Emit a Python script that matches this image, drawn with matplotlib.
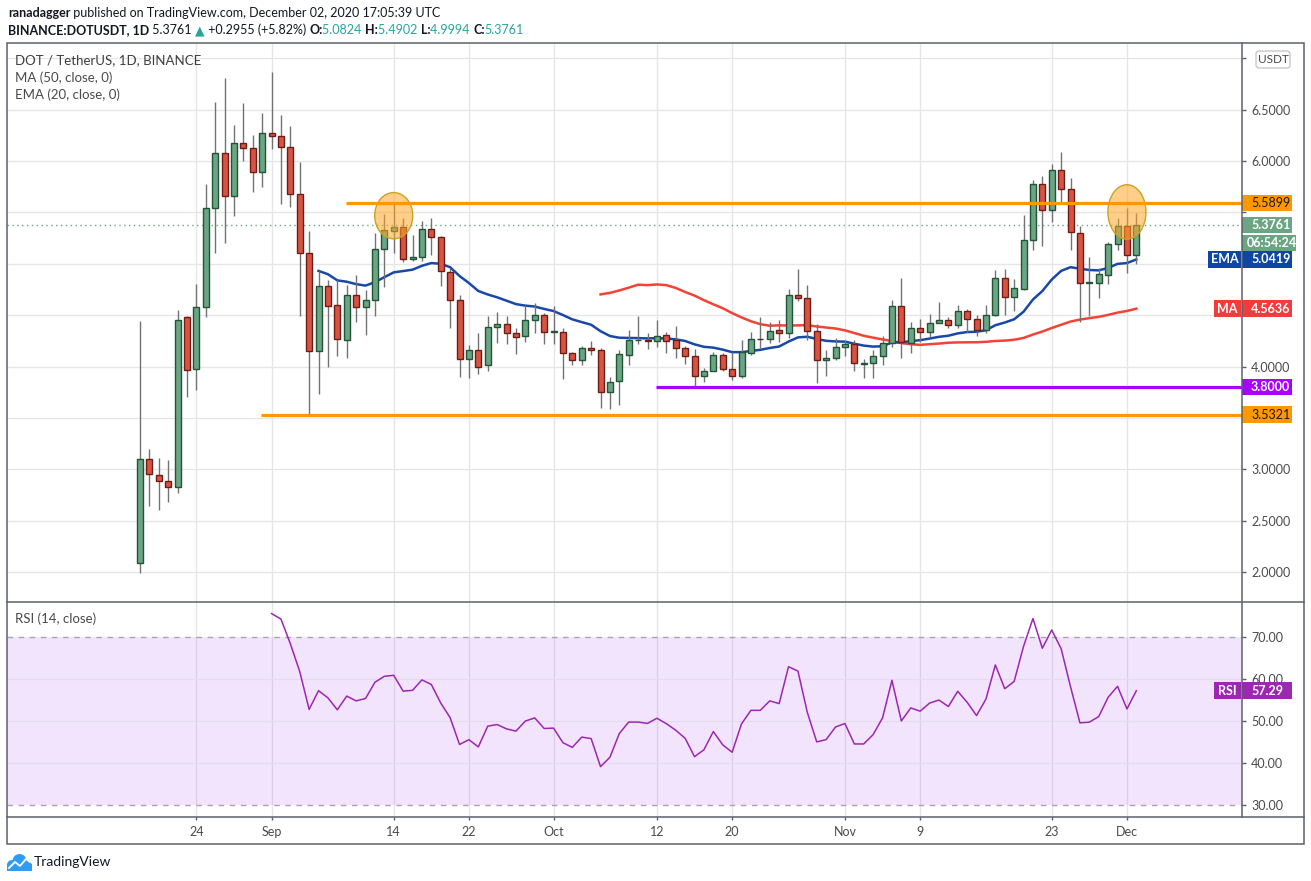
import matplotlib
matplotlib.use('Agg')
import matplotlib.pyplot as plt
from matplotlib.patches import Rectangle, Ellipse, Circle, FancyBboxPatch
import numpy as np
import pandas as pd

plt.rcParams['font.family'] = ['Lato', 'DejaVu Sans']

# daily candles DOT/USDT (Aug 18 - Dec 2, 2020)
start_date = '2020-08-18'
opens = [2.085, 3.10, 2.94, 2.89, 2.83, 4.48, 3.98, 4.58, 5.54, 6.08, 5.66, 6.18, 6.13, 5.89,
         6.27, 6.24, 6.14, 5.68, 5.10, 4.15, 4.78, 4.60, 4.26, 4.70, 4.58, 4.65, 5.14, 5.32,
         5.36, 5.05, 5.07, 5.34, 5.26, 4.92, 4.65, 4.07, 4.16, 4.01, 4.38, 4.41, 4.33, 4.30,
         4.45, 4.50, 4.34, 4.34, 4.13, 4.06, 4.18, 4.16, 3.75, 3.86, 4.11, 4.255, 4.26, 4.245,
         4.31, 4.26, 4.18, 4.10, 3.91, 3.96, 4.11, 3.98, 3.905, 4.13, 4.27, 4.265, 4.355, 4.33,
         4.70, 4.67, 4.35, 4.06, 4.08, 4.19, 4.22, 4.025, 4.03, 4.10, 4.23, 4.59, 4.23, 4.37,
         4.34, 4.42, 4.45, 4.40, 4.54, 4.46, 4.36, 4.50, 4.86, 4.68, 4.75, 5.23, 5.78, 5.52,
         5.91, 5.73, 5.30, 4.81, 4.81, 4.89, 5.19, 5.37, 5.0824]
highs = [4.44, 3.20, 3.11, 3.09, 4.55, 4.49, 4.80, 5.78, 6.57, 6.81, 6.35, 6.56, 6.25, 6.47,
         6.87, 6.45, 6.34, 5.99, 5.32, 4.93, 4.84, 4.84, 4.79, 4.89, 4.74, 5.30, 5.48, 5.58,
         5.45, 5.28, 5.42, 5.45, 5.27, 4.96, 4.70, 4.21, 4.33, 4.49, 4.53, 4.49, 4.37, 4.60,
         4.62, 4.52, 4.59, 4.37, 4.14, 4.20, 4.25, 4.18, 3.90, 4.16, 4.36, 4.49, 4.33, 4.45,
         4.34, 4.39, 4.20, 4.17, 3.99, 4.14, 4.13, 4.14, 4.26, 4.34, 4.48, 4.43, 4.45, 4.755,
         4.95, 4.79, 4.41, 4.16, 4.28, 4.26, 4.26, 4.07, 4.16, 4.30, 4.645, 4.86, 4.43, 4.46,
         4.51, 4.625, 4.48, 4.595, 4.555, 4.50, 4.595, 4.94, 4.95, 4.85, 5.47, 5.815, 5.85, 5.97,
         6.09, 5.83, 5.37, 5.07, 4.955, 5.21, 5.45, 5.54, 5.4902]
lows = [1.99, 2.64, 2.60, 2.68, 2.77, 3.70, 3.77, 4.48, 5.10, 5.20, 5.46, 6.00, 5.70, 5.75,
        6.12, 5.58, 5.55, 4.49, 3.53, 3.73, 4.00, 4.10, 4.08, 4.43, 4.31, 4.49, 4.77, 5.10,
        5.02, 5.03, 5.03, 5.09, 4.78, 4.37, 3.90, 3.89, 3.93, 3.96, 4.23, 4.22, 4.12, 4.24,
        4.33, 4.22, 4.22, 3.88, 4.01, 4.01, 4.11, 3.60, 3.59, 3.63, 4.01, 4.22, 4.17, 4.19,
        4.13, 4.08, 4.02, 3.79, 3.85, 3.955, 3.955, 3.87, 3.885, 4.115, 4.18, 4.23, 4.24, 4.28,
        4.64, 4.255, 3.84, 3.91, 4.06, 4.105, 3.96, 3.89, 3.89, 4.01, 4.19, 4.08, 4.13, 4.235,
        4.29, 4.42, 4.37, 4.37, 4.34, 4.30, 4.33, 4.49, 4.50, 4.54, 4.74, 5.13, 5.17, 5.41,
        5.60, 5.13, 4.43, 4.49, 4.67, 4.80, 5.13, 4.91, 4.9994]
closes = [3.10, 2.95, 2.89, 2.83, 4.45, 3.97, 4.58, 5.54, 6.08, 5.66, 6.18, 6.13, 5.89, 6.27,
          6.24, 6.14, 5.68, 5.10, 4.15, 4.78, 4.59, 4.27, 4.70, 4.58, 4.65, 5.14, 5.33, 5.36,
          5.05, 5.07, 5.34, 5.26, 4.93, 4.65, 4.07, 4.16, 4.00, 4.38, 4.41, 4.33, 4.29, 4.45,
          4.50, 4.34, 4.345, 4.13, 4.06, 4.18, 4.16, 3.75, 3.85, 4.12, 4.26, 4.26, 4.245, 4.30,
          4.245, 4.18, 4.10, 3.905, 3.96, 4.11, 3.98, 3.905, 4.14, 4.265, 4.265, 4.35, 4.33, 4.70,
          4.67, 4.35, 4.06, 4.08, 4.19, 4.22, 4.03, 4.03, 4.10, 4.23, 4.59, 4.235, 4.37, 4.34,
          4.42, 4.45, 4.40, 4.54, 4.46, 4.36, 4.50, 4.86, 4.68, 4.76, 5.23, 5.78, 5.52, 5.91,
          5.73, 5.31, 4.81, 4.82, 4.90, 5.19, 5.37, 5.0824, 5.3761]

# indicator readouts shown on the price scale
ema_last = 5.0419
ma_last = 4.5636
rsi_last = 57.29
countdown = '06:54:24'

tick_dates = ['2020-08-24', '2020-09-01', '2020-09-14', '2020-09-22', '2020-10-01', '2020-10-12',
              '2020-10-20', '2020-11-01', '2020-11-09', '2020-11-23', '2020-12-01']
tick_labels = ['24', 'Sep', '14', '22', 'Oct', '12', '20', 'Nov', '9', '23', 'Dec']
price_ticks = [2.0, 2.5, 3.0, 3.5, 4.0, 4.5, 5.0, 5.5, 6.0, 6.5, 7.0]
hidden_ticks = [3.5, 4.5, 5.0, 5.5, 7.0]  # covered by the tags on the scale

# horizontal levels drawn by the author
level_values = [5.5899, 3.8000, 3.5321]
level_starts = ['2020-09-09', '2020-10-12', '2020-08-31']
level_colors = ['#ff9800', '#aa00ff', '#ff9800']
level_text = ['#1a1a1a', 'white', '#1a1a1a']

# highlighted tops (ellipses)
circle_dates = ['2020-09-14', '2020-12-01']
circle_prices = [5.468, 5.504]
circle_heights = [0.45, 0.53]

opens = np.array(opens); highs = np.array(highs)
lows = np.array(lows); closes = np.array(closes)
n = len(closes)
dates = pd.date_range(start_date, periods=n, freq='D')
x = np.arange(n)
tick_pos = dates.get_indexer(pd.to_datetime(tick_dates))

# indicators
ma50 = pd.Series(closes).rolling(50).mean().values
ema20 = np.full(n, np.nan)
ema20[19] = closes[:20].mean()
k = 2 / 21
for i in range(20, n):
    ema20[i] = closes[i] * k + ema20[i - 1] * (1 - k)

chg = np.diff(closes)
gain = np.clip(chg, 0, None)
loss = np.clip(-chg, 0, None)
rsi = np.full(n, np.nan)
ag = gain[:14].mean(); al = loss[:14].mean()
rsi[14] = 100 - 100 / (1 + ag / al)
for i in range(15, n):
    ag = (ag * 13 + gain[i - 1]) / 14
    al = (al * 13 + loss[i - 1]) / 14
    rsi[i] = 100 - 100 / (1 + ag / al)

# ---- layout (pixels)
W, H = 1311, 881
LEFT, RIGHT, OUTER_R = 7, 1242, 1304
TOP, SPLIT, BOT, OUTER_B = 43.3, 601.5, 817.3, 844


def fig_box(x0, y0, x1, y1):
    return [x0 / W, 1 - y1 / H, (x1 - x0) / W, (y1 - y0) / H]


fig = plt.figure(figsize=(13.11, 8.81), dpi=100)
fig.patch.set_facecolor('white')
ax = fig.add_axes(fig_box(LEFT, TOP, RIGHT, SPLIT))
ax_rsi = fig.add_axes(fig_box(LEFT, SPLIT, RIGHT, BOT), sharex=ax)

grid_c = '#e6e6e6'
txt_c = '#4a4a4a'
line_c = '#5d606b'

ax.set_xlim(-14.14, 117.24)
ax.set_ylim(1.7129, 7.1455)
ax_rsi.set_ylim(27.14, 78.52)

for a in (ax, ax_rsi):
    for s in a.spines.values():
        s.set_visible(False)
    a.set_axisbelow(True)
    a.yaxis.tick_right()
    a.tick_params(axis='y', length=3, width=1, color=line_c, labelcolor=txt_c,
                  labelsize=9, pad=3.5)
    a.set_xticks(tick_pos)
    a.grid(axis='x', color=grid_c, lw=1)

ax.set_yticks(price_ticks)
ax.set_yticklabels(['' if t in hidden_ticks else '%.4f' % t for t in price_ticks])
ax.grid(axis='y', color=grid_c, lw=1)
ax.tick_params(axis='x', length=0, labelbottom=False)

ax_rsi.set_yticks([30, 40, 50, 60, 70])
ax_rsi.yaxis.set_major_formatter(matplotlib.ticker.FormatStrFormatter('%.2f'))
ax_rsi.set_xticklabels(tick_labels)
ax_rsi.tick_params(axis='x', length=2.4, width=1, color=line_c, labelcolor=txt_c,
                   labelsize=9, pad=4)

# ---- candles
up = closes >= opens
fill = np.where(up, '#6ba583', '#d75442')
edge = np.where(up, '#225437', '#6e1d16')
ax.vlines(x, lows, highs, color='#737375', lw=1, zorder=3)
ax.bar(x, np.maximum(np.abs(closes - opens), 0.004), 0.64, bottom=np.minimum(opens, closes),
       color=fill, edgecolor=edge, linewidth=1, zorder=4)

ax.plot(x, ma50, color='#f44336', lw=1.8, zorder=2)
ax.plot(x, ema20, color='#1848a8', lw=1.8, zorder=2)
ax.axhline(closes[-1], color='#6ba583', lw=1, ls=(0, (1, 2.5)), zorder=2)

for d, p, h in zip(circle_dates, circle_prices, circle_heights):
    cx = dates.get_loc(pd.Timestamp(d))
    ax.add_patch(Ellipse((cx, p), 4.05, h, fc='#ffa726', alpha=0.55, ec='none', zorder=5))
    ax.add_patch(Ellipse((cx, p), 4.05, h, fc='none', ec='#c9a227', lw=1, zorder=5))

for v, d, c in zip(level_values, level_starts, level_colors):
    x0 = dates.get_loc(pd.Timestamp(d)) - 0.1
    ax.plot([x0, ax.get_xlim()[1]], [v, v], color=c, lw=2.3, zorder=6, solid_capstyle='butt')

# ---- RSI pane
ax_rsi.axhspan(30, 70, color='#9b26ee', alpha=0.12, lw=0, zorder=1)
for lv in (40, 50, 60):
    ax_rsi.axhline(lv, color='#e4dcee', lw=1, zorder=1.5)
for lv in (30, 70):
    ax_rsi.axhline(lv, color='#a8a3b0', lw=1, ls=(0, (4, 4)), zorder=1.6)
ax_rsi.plot(x, rsi, color='#9c27b0', lw=1.1, zorder=3)

AXW = RIGHT - LEFT


def ppu(a):
    lo, hi = a.get_ylim()
    return a.get_window_extent().height / (hi - lo)


def tag(a, value, text, fc, tc, dy=0, w=50, tx=9, bold=True, side=None, side_w=27):
    pu = ppu(a)
    tr = a.get_yaxis_transform()
    yc = value - dy / pu
    h = 16.7 / pu
    a.add_patch(Rectangle((1.0, yc - h / 2), w / AXW, h, transform=tr, fc=fc, ec='none',
                          clip_on=False, zorder=10))
    a.text(1.0 + tx / AXW, yc, text, transform=tr, color=tc, fontsize=9, va='center', ha='left',
           fontweight='bold' if bold else 'normal', zorder=11, clip_on=False)
    if side:
        a.add_patch(Rectangle((1.0 - (side_w + 1.3) / AXW, yc - h / 2), side_w / AXW, h,
                              transform=tr, fc=fc, ec='none', clip_on=False, zorder=10))
        a.text(1.0 - (side_w / 2 + 1.3) / AXW, yc, side, transform=tr, color='white', fontsize=9,
               va='center', ha='center', fontweight='bold', zorder=11, clip_on=False)


for v, c, tc in zip(level_values, level_colors, level_text):
    tag(ax, v, '%.4f' % v, c, tc, bold=(tc == 'white'))
tag(ax, closes[-1], '%.4f' % closes[-1], '#6ba583', 'white')
tag(ax, closes[-1], countdown, '#6ba583', 'white', dy=18, w=54, tx=4.5)
tag(ax, ema_last, '%.4f' % ema_last, '#0e46a3', 'white', side='EMA', side_w=32.7)
tag(ax, ma_last, '%.4f' % ma_last, '#f23b3b', 'white', side='MA')
tag(ax_rsi, rsi_last, '%.2f' % rsi_last, '#9c27b0', 'white', side='RSI')

# pane titles
ax.text(8 / AXW, 1 - 17 / (SPLIT - TOP), 'DOT / TetherUS, 1D, BINANCE', transform=ax.transAxes,
        fontsize=9.5, color='#3e3e3e', va='center')
ax.text(8 / AXW, 1 - 34 / (SPLIT - TOP), 'MA (50, close, 0)', transform=ax.transAxes,
        fontsize=9.5, color=txt_c, va='center')
ax.text(8 / AXW, 1 - 51 / (SPLIT - TOP), 'EMA (20, close, 0)', transform=ax.transAxes,
        fontsize=9.5, color=txt_c, va='center')
ax_rsi.text(8 / AXW, 1 - 17 / (BOT - SPLIT), 'RSI (14, close)', transform=ax_rsi.transAxes,
            fontsize=9.5, color=txt_c, va='center')

# ---- overlay: frame, header, logo
ov = fig.add_axes([0, 0, 1, 1])
ov.set_xlim(0, W)
ov.set_ylim(H, 0)
ov.axis('off')
ov.add_patch(Rectangle((LEFT, TOP), OUTER_R - LEFT, OUTER_B - TOP, fc='none', ec=line_c, lw=1.1))
ov.plot([RIGHT, RIGHT], [TOP, BOT], color=line_c, lw=1.1)
ov.plot([LEFT, OUTER_R], [SPLIT, SPLIT], color=line_c, lw=1.1)
ov.plot([LEFT, OUTER_R], [BOT, BOT], color=line_c, lw=1.1)
ov.add_patch(FancyBboxPatch((1256, 51), 34, 17, boxstyle='round,pad=0,rounding_size=3',
                            fc='white', ec='#c8c8cc', lw=1))
ov.text(1273, 59.5, 'USDT', fontsize=8.5, color=txt_c, ha='center', va='center')


def chain(parts, x0, y0, size=9):
    prev = None
    for s, color, weight in parts:
        if prev is None:
            prev = ov.text(x0, y0, s, color=color, fontweight=weight, fontsize=size,
                           ha='left', va='center')
        else:
            prev = ov.annotate(s, xy=(1, 0), xycoords=prev, color=color, fontweight=weight,
                               fontsize=size, ha='left', va='bottom')


dark = '#131722'
teal = '#26a69a'
chain([('ranadagger', dark, 'bold'),
       (' published on TradingView.com, December 02, 2020 17:05:39 UTC', dark, 'normal')], 8, 13)
chain([('BINANCE:DOTUSDT, 1D', dark, 'bold'), (' 5.3761 ', dark, 'normal'), ('▲', teal, 'normal'),
       (' +0.2955 (+5.82%) ', dark, 'normal'), ('O:', dark, 'bold'), ('5.0824 ', teal, 'normal'),
       ('H:', dark, 'bold'), ('5.4902 ', teal, 'normal'), ('L:', dark, 'bold'),
       ('4.9994 ', teal, 'normal'), ('C:', dark, 'bold'), ('5.3761', teal, 'normal')], 8, 30)

logo_c = '#2e9cf5'
for cx, cy, r in [(12, 865, 5), (19.5, 861, 7), (26.5, 865, 5)]:
    ov.add_patch(Circle((cx, cy), r, fc=logo_c, ec='none'))
ov.add_patch(Rectangle((7, 864), 25, 6.5, fc=logo_c, ec='none'))
ov.plot([9, 15, 20, 26, 30], [868, 862, 866, 859, 862], color='white', lw=1.3)
ov.text(34, 862, 'TradingView', fontsize=10, color=dark, va='center', ha='left')

fig.savefig('out.png', dpi=100, facecolor='white')
